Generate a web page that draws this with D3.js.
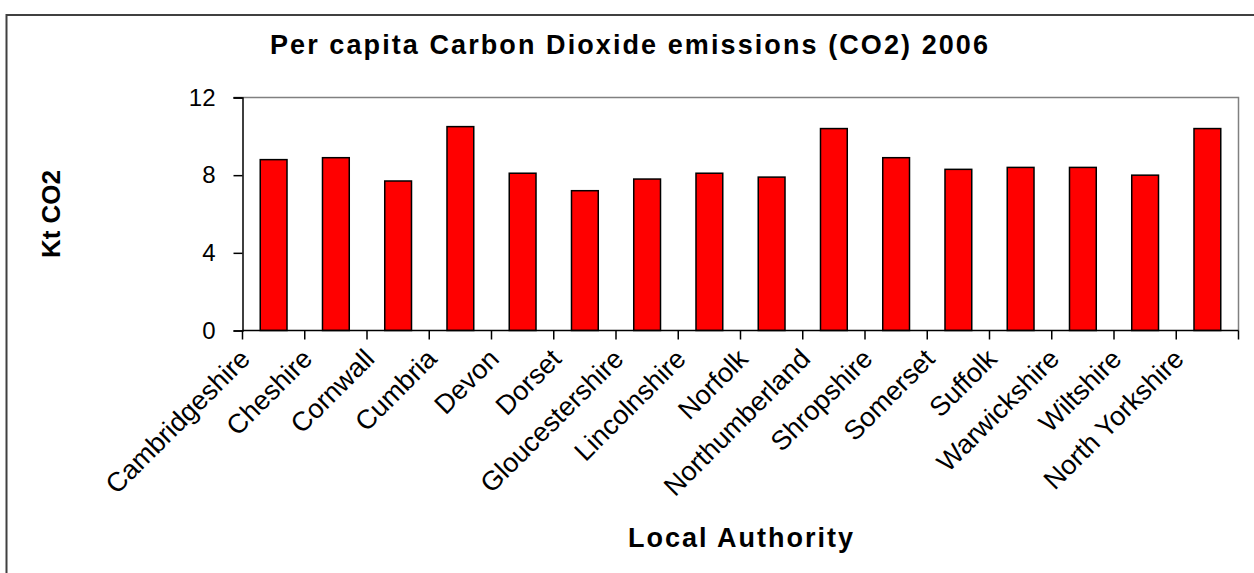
<!DOCTYPE html>
<html>
<head>
<meta charset="utf-8">
<script src="https://cdn.jsdelivr.net/npm/d3@7"></script>
<style>
  html, body { margin: 0; padding: 0; background: #fff; }
  svg { display: block; font-family: "Liberation Sans", Arial, sans-serif; }
</style>
</head>
<body>
<svg id="chart" width="1254" height="573"></svg>
<script>
const categories = ["Cambridgeshire", "Cheshire", "Cornwall", "Cumbria", "Devon", "Dorset",
  "Gloucestershire", "Lincolnshire", "Norfolk", "Northumberland", "Shropshire", "Somerset",
  "Suffolk", "Warwickshire", "Wiltshire", "North Yorkshire"];
const values = [8.8, 8.9, 7.7, 10.5, 8.1, 7.2, 7.8, 8.1, 7.9, 10.4, 8.9, 8.3, 8.4, 8.4, 8.0, 10.4];
const yTicks = [0, 4, 8, 12];
const titleText = "Per capita Carbon Dioxide emissions (CO2) 2006";
const xTitle = "Local Authority";
const yTitle = "Kt CO2";

const svg = d3.select("#chart");
const W = 1254, H = 573;
const plot = { left: 242.5, right: 1238.5, top: 97.5, bottom: 330.5 };

// outer chart border
svg.append("rect")
  .attr("x", 6.5).attr("y", 15).attr("width", W + 10).attr("height", H + 10)
  .attr("fill", "#fff").attr("stroke", "#404040").attr("stroke-width", 2);

const x = d3.scaleBand().domain(categories).range([plot.left, plot.right])
  .paddingInner(0.57).paddingOuter(0.285);
const y = d3.scaleLinear().domain([0, 12]).range([plot.bottom, plot.top]);

// plot area border (top & right gray)
svg.append("path")
  .attr("d", `M${plot.left - 9},${plot.top}H${plot.right}V${plot.bottom}`)
  .attr("fill", "none").attr("stroke", "#808080").attr("stroke-width", 1.5);

// bars
svg.append("g").selectAll("rect").data(values).join("rect")
  .attr("x", (d, i) => x(categories[i]))
  .attr("y", d => y(d))
  .attr("width", x.bandwidth())
  .attr("height", d => y(0) - y(d))
  .attr("fill", "#FF0000")
  .attr("stroke", "#000").attr("stroke-width", 1.5);

// y axis
const yAxis = d3.axisLeft(y).tickValues(yTicks).tickSize(9).tickPadding(18)
  .tickFormat(d3.format("d"));
const gy = svg.append("g").attr("transform", `translate(${plot.left},0)`).call(yAxis);
gy.select(".domain").attr("stroke", "#000").attr("stroke-width", 1.5);
gy.selectAll(".tick line").attr("stroke", "#000").attr("stroke-width", 1.5);
gy.selectAll(".tick text").attr("font-size", 24).attr("fill", "#000")
  .attr("font-family", "Liberation Sans, Arial, sans-serif");

// x axis baseline and ticks at band boundaries
const boundaries = d3.range(categories.length + 1).map(i => plot.left + i * (plot.right - plot.left) / categories.length);
svg.append("line").attr("x1", plot.left).attr("x2", plot.right)
  .attr("y1", plot.bottom).attr("y2", plot.bottom)
  .attr("stroke", "#000").attr("stroke-width", 1.5);
svg.append("g").selectAll("line").data(boundaries).join("line")
  .attr("x1", d => d).attr("x2", d => d)
  .attr("y1", plot.bottom).attr("y2", plot.bottom + 9)
  .attr("stroke", "#000").attr("stroke-width", 1.5);

// category labels
svg.append("g").selectAll("text").data(categories).join("text")
  .attr("transform", d => `translate(${x(d) + x.bandwidth() / 2 - 22},${plot.bottom + 30}) rotate(-45)`)
  .attr("text-anchor", "end")
  .attr("font-size", 27)
  .attr("fill", "#000")
  .text(d => d);

// title
svg.append("text")
  .attr("x", 270).attr("y", 54)
  .attr("font-size", 27).attr("font-weight", "bold")
  .attr("textLength", 718).attr("lengthAdjust", "spacing")
  .text(titleText);

// x title
svg.append("text")
  .attr("x", 741.5).attr("y", 547)
  .attr("text-anchor", "middle")
  .attr("font-size", 27).attr("font-weight", "bold")
  .attr("letter-spacing", 2)
  .text(xTitle);

// y title
svg.append("text")
  .attr("transform", `translate(60,${(plot.top + plot.bottom) / 2}) rotate(-90)`)
  .attr("text-anchor", "middle")
  .attr("font-size", 26).attr("font-weight", "bold")
  .text(yTitle);
</script>
</body>
</html>
